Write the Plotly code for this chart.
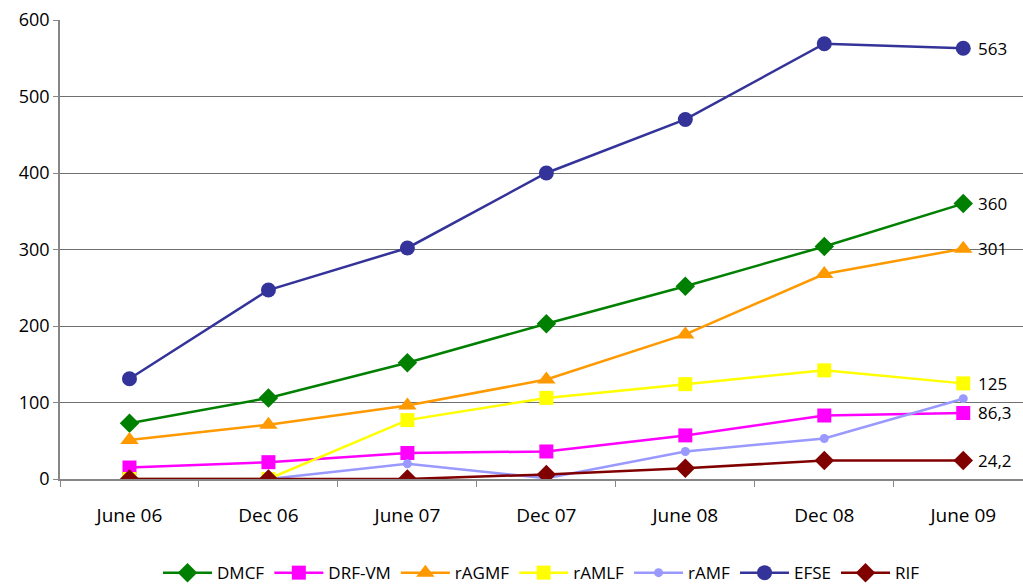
import plotly.graph_objects as go

categories = ["June 06", "Dec 06", "June 07", "Dec 07", "June 08", "Dec 08", "June 09"]

dmcf = [73, 106, 152, 203, 252, 304, 360]
drf_vm = [15, 22, 34, 36, 57, 83, 86.3]
ragmf = [51, 71, 96, 130, 189, 268, 301]
ramlf = [0, 0, 77, 106, 124, 142, 125]
ramf = [0, 0, 20, 1, 36, 53, 105]
efse = [131, 247, 302, 400, 470, 569, 563]
rif = [0, 0, 0, 6, 14, 24.2, 24.2]

series = [
    ("DMCF", dmcf, "#008000", "diamond", 15),
    ("DRF-VM", drf_vm, "#FF00FF", "square", 14),
    ("rAGMF", ragmf, "#FF9900", "triangle-up", 16),
    ("rAMLF", ramlf, "#FFFF00", "square", 14),
    ("rAMF", ramf, "#9999FF", "circle", 9),
    ("EFSE", efse, "#333399", "circle", 15),
    ("RIF", rif, "#800000", "diamond", 15),
]
labelled = {"DMCF", "DRF-VM", "rAGMF", "rAMLF", "EFSE", "RIF"}

fig = go.Figure()
for name, vals, color, sym, size in series:
    fig.add_trace(go.Scatter(
        x=categories, y=vals, name=name, mode="lines+markers",
        line=dict(color=color, width=2.5),
        marker=dict(symbol=sym, size=size, color=color),
    ))

for name, vals, color, sym, size in series:
    if name in labelled:
        fig.add_annotation(
            x=categories[-1], y=vals[-1],
            text=(str(vals[-1]).replace(".", ",")),
            showarrow=False, xanchor="left", xshift=13,
            font=dict(size=17, color="#000000"),
        )

font_family = "Open Sans, sans-serif"
fig.update_layout(
    width=1023, height=584,
    margin=dict(l=60, r=0, t=20, b=105, autoexpand=False),
    paper_bgcolor="white", plot_bgcolor="white",
    font=dict(family=font_family, size=17, color="#000000"),
    showlegend=True,
    legend=dict(orientation="h", x=0.5, xanchor="center", y=-0.205, yanchor="middle",
                font=dict(size=17), itemwidth=49, tracegroupgap=0),
    xaxis=dict(
        type="category", range=[-0.5, 6.43],
        showline=True, linecolor="#868686", linewidth=1.5,
        ticks="outside", tickson="boundaries", ticklen=6, tickcolor="#868686",
        showgrid=False, tickfont=dict(size=19), ticklabelstandoff=18,
    ),
    yaxis=dict(
        range=[0, 600], dtick=100, tick0=0,
        showline=True, linecolor="#868686", linewidth=1.5,
        ticks="outside", ticklen=5, tickcolor="#868686",
        showgrid=True, gridcolor="#707070", gridwidth=1,
        zeroline=False, tickfont=dict(size=18),
    ),
)

fig.write_html("out.html")
